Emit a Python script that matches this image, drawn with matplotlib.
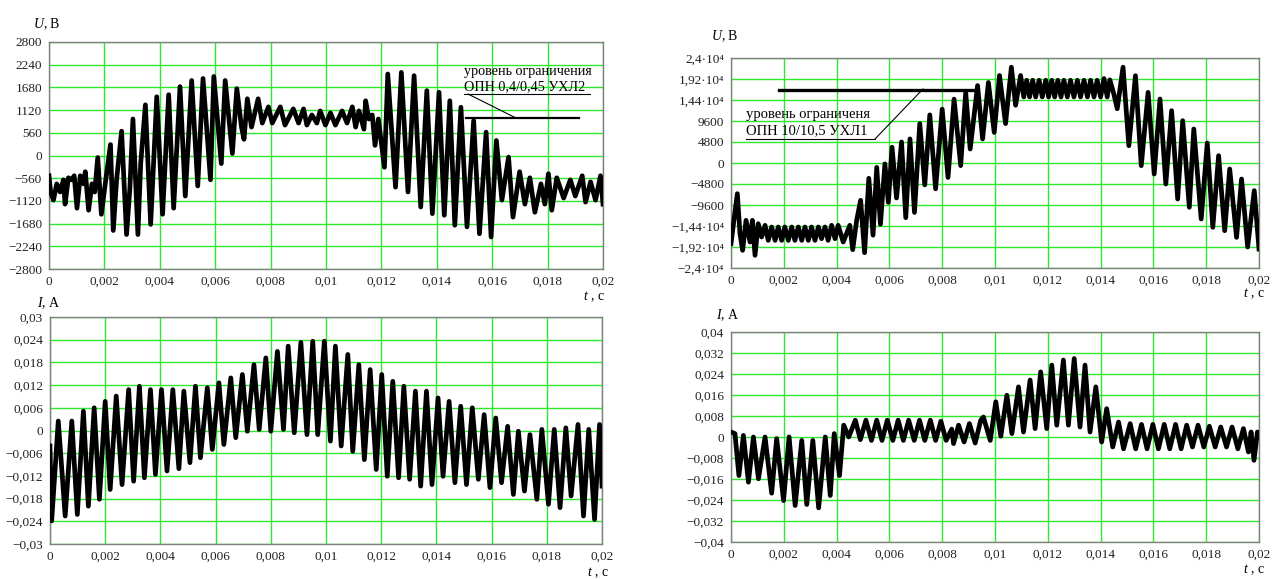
import numpy as np
import matplotlib
matplotlib.use("Agg")
import matplotlib.pyplot as plt
from matplotlib.lines import Line2D

plt.rcParams["font.family"] = ["Liberation Serif", "DejaVu Serif"]
plt.rcParams["mathtext.fontset"] = "custom"
plt.rcParams["mathtext.rm"] = "Liberation Serif"
plt.rcParams["mathtext.it"] = "Liberation Serif:italic"

W, H = 1273, 579

# time ticks (s)
x_labels = ["0", "0,002", "0,004", "0,006", "0,008", "0,01",
            "0,012", "0,014", "0,016", "0,018", "0,02"]

# --- 0,4 kV network: voltage (ms, V) ---
t_u1 = [0.00, 0.06, 0.16, 0.28, 0.40, 0.52, 0.58, 0.70, 0.82, 0.91, 1.01, 1.13,
        1.25, 1.31, 1.43, 1.55, 1.65, 1.76, 1.89, 2.04, 2.22, 2.32, 2.44, 2.62,
        2.80, 2.92, 3.03, 3.21, 3.31, 3.48, 3.67, 3.89, 4.10, 4.32, 4.50, 4.73,
        4.92, 5.15, 5.37, 5.56, 5.83, 5.95, 6.22, 6.36, 6.62, 6.78, 6.95, 7.04,
        7.16, 7.31, 7.55, 7.70, 7.92, 8.06, 8.35, 8.52, 8.82, 9.01, 9.19, 9.31,
        9.49, 9.67, 9.79, 9.98, 10.16, 10.34, 10.58, 10.76, 10.95, 11.07, 11.19,
        11.37, 11.43, 11.55, 11.67, 11.77, 11.89, 12.11, 12.23, 12.51, 12.72,
        12.96, 13.18, 13.42, 13.64, 13.84, 14.08, 14.27, 14.47, 14.65, 14.87,
        15.09, 15.33, 15.54, 15.78, 15.96, 16.15, 16.35, 16.59, 16.75, 16.99,
        17.18, 17.36, 17.54, 17.76, 17.90, 18.03, 18.15, 18.33, 18.58, 18.82,
        19.00, 19.25, 19.37, 19.55, 19.73, 19.91, 20.00]
u1 = [-500, -900, -1100, -700, -900, -600, -1200, -550, -600, -500, -1300, -500,
      -700, -400, -1350, -700, -900, -50, -1450, -650, 270, -1850, -600, 600,
      -1950, -800, 900, -1950, -200, 1250, -1700, 1450, -1450, 1500, -1300, 1700,
      -1000, 1850, -750, 1900, -600, 1950, -200, 1850, 50, 1650, 700, 400,
      1400, 700, 1400, 800, 1200, 800, 1200, 750, 1150, 800, 1150, 750,
      1000, 800, 1100, 750, 1050, 750, 1100, 800, 1200, 700, 1100,
      650, 1350, 900, 1000, 250, 900, -290, 2010, -780, 2050,
      -900, 1970, -1270, 1600, -1435, 1560, -1475, 1350, -1720, 1190,
      -1760, 860, -1930, 575, -2010, 370, -1100, -40, -1520, -400,
      -1200, -550, -1400, -700, -1200, -450, -1350, -550, -1050, -600,
      -1000, -500, -1150, -650, -1100, -500, -1200]

# --- 0,4 kV network: current (ms, A) ---
t_i1 = [0.00, 0.06, 0.30, 0.55, 0.79, 0.99, 1.21, 1.39, 1.60, 1.79, 2.00, 2.18,
        2.40, 2.61, 2.85, 3.03, 3.24, 3.42, 3.64, 3.82, 4.04, 4.24, 4.45, 4.67,
        4.85, 5.07, 5.27, 5.45, 5.70, 5.88, 6.12, 6.30, 6.55, 6.73, 6.97, 7.15,
        7.39, 7.58, 7.82, 8.00, 8.24, 8.46, 8.63, 8.85, 9.09, 9.31, 9.52, 9.70,
        9.94, 10.16, 10.34, 10.55, 10.79, 10.97, 11.19, 11.39, 11.60, 11.82,
        12.02, 12.22, 12.42, 12.63, 12.82, 13.03, 13.24, 13.43, 13.64, 13.84,
        14.06, 14.24, 14.46, 14.67, 14.88, 15.09, 15.30, 15.52, 15.73, 15.94,
        16.15, 16.36, 16.58, 16.79, 16.97, 17.19, 17.39, 17.64, 17.82, 18.06,
        18.27, 18.48, 18.69, 18.88, 19.13, 19.33, 19.52, 19.73, 19.91, 20.00]
i1 = [-0.0041, -0.0239, 0.0025, -0.0226, 0.0025, -0.0222, 0.0051, -0.0200,
      0.0060, -0.0182, 0.0077, -0.0156, 0.0091, -0.0143, 0.0108, -0.0134,
      0.0117, -0.0125, 0.0108, -0.0116, 0.0108, -0.0107, 0.0108, -0.0101,
      0.0104, -0.0085, 0.0117, -0.0072, 0.0113, -0.0050, 0.0126, -0.0037,
      0.0139, -0.0019, 0.0148, -0.0002, 0.0174, 0.0003, 0.0192, -0.0002,
      0.0209, 0.0003, 0.0223, -0.0006, 0.0233, -0.0011, 0.0236, -0.0011,
      0.0236, -0.0028, 0.0223, -0.0041, 0.0201, -0.0055, 0.0174, -0.0077,
      0.0161, -0.0103, 0.0148, -0.0121, 0.0130, -0.0125, 0.0117, -0.0129,
      0.0104, -0.0147, 0.0104, -0.0143, 0.0086, -0.0121, 0.0077, -0.0138,
      0.0064, -0.0143, 0.0060, -0.0129, 0.0042, -0.0151, 0.0033, -0.0138,
      0.0011, -0.0169, -0.0002, -0.0160, -0.0011, -0.0182, 0.0003, -0.0195,
      0.0003, -0.0204, 0.0007, -0.0173, 0.0016, -0.0226, 0.0003, -0.0235,
      0.0016, -0.0147]

# --- 10 kV network: voltage (ms, V) ---
t_u2 = [0.00, 0.11, 0.24, 0.34, 0.44, 0.57, 0.72, 0.81, 0.91, 1.03, 1.16, 1.29,
        1.41, 1.54, 1.67, 1.79, 1.92, 2.04, 2.17, 2.30, 2.42, 2.55, 2.68, 2.80,
        2.93, 3.05, 3.18, 3.31, 3.43, 3.56, 3.68, 3.81, 3.94, 4.06, 4.25, 4.50,
        4.61, 4.76, 4.91, 5.06, 5.22, 5.38, 5.52, 5.66, 5.83, 5.96, 6.10, 6.27,
        6.46, 6.62, 6.78, 6.95, 7.15, 7.34, 7.53, 7.75, 8.00, 8.22, 8.45, 8.70,
        8.89, 9.06, 9.34, 9.53, 9.75, 9.97, 10.17, 10.40, 10.62, 10.78, 10.97,
        11.09, 11.20, 11.31, 11.43, 11.54, 11.67, 11.79, 11.92, 12.03, 12.15,
        12.26, 12.38, 12.50, 12.61, 12.74, 12.86, 12.99, 13.12, 13.24, 13.37,
        13.50, 13.62, 13.75, 13.87, 14.00, 14.13, 14.25, 14.35, 14.50, 14.63,
        14.85, 15.07, 15.32, 15.54, 15.80, 16.03, 16.25, 16.47, 16.69, 16.92,
        17.11, 17.36, 17.53, 17.81, 18.04, 18.25, 18.47, 18.70, 18.89, 19.15,
        19.34, 19.57, 19.82, 20.00]
u2 = [-18440, -13100, -7010, -16150, -19960, -13100, -18060, -13100, -21100,
      -13870, -16910, -14250, -17680, -14630, -17680, -14630, -17680, -14630,
      -17680, -14630, -17680, -14630, -17680, -14630, -17680, -14630, -17680,
      -14630, -17300, -14630, -17680, -14250, -17300, -14250, -18060, -14250,
      -19810, -13100, -8530, -20500, -3500, -16500, -1000, -14000, -200, -9000,
      3600, -8000, 4800, -12500, 5500, -11300, 9000, -5000, 11000, -5900,
      12300, -3300, 14600, -600, 16100, 3200, 17700, 5500, 18400, 7000,
      20000, 9000, 21900, 13200, 20000,
      15100, 18900, 15100, 18900, 15100, 18900, 15100, 18900, 15100, 18900,
      15100, 18900, 15100, 18900, 15100, 18900, 15100, 18900, 15100, 18900,
      15100, 18900, 15100, 18900, 15100, 19300, 15100, 19000, 15800, 12400,
      21900, 3960, 19960, -610, 16150, -2510, 14630, -4800, 11960, -8230,
      9680, -10130, 7770, -12800, 4570, -14700, 1680, -15470, -1370, -17000,
      -3660, -19200, -6320, -19660]

# --- 10 kV network: current (ms, A) ---
t_i2 = [0.00, 0.15, 0.30, 0.47, 0.66, 0.85, 1.04, 1.29, 1.54, 1.73, 1.99, 2.20,
        2.43, 2.68, 2.87, 3.10, 3.32, 3.57, 3.76, 3.91, 4.11, 4.27, 4.46, 4.71,
        4.90, 5.11, 5.32, 5.52, 5.72, 5.92, 6.13, 6.33, 6.53, 6.73, 6.94, 7.14,
        7.34, 7.55, 7.75, 7.95, 8.15, 8.36, 8.43, 8.62, 8.83, 9.03, 9.25, 9.46,
        9.56, 9.82, 10.03, 10.22, 10.45, 10.64, 10.89, 11.08, 11.33, 11.52,
        11.73, 11.96, 12.15, 12.34, 12.59, 12.78, 13.00, 13.22, 13.41, 13.60,
        13.82, 14.04, 14.23, 14.46, 14.68, 14.87, 15.12, 15.33, 15.55, 15.76,
        15.98, 16.19, 16.41, 16.62, 16.84, 17.05, 17.26, 17.48, 17.69, 17.91,
        18.12, 18.34, 18.55, 18.77, 18.98, 19.20, 19.41, 19.60, 19.70, 19.81,
        19.94, 20.00]
i2 = [0.0019, 0.0013, -0.0147, 0.0006, -0.0172, 0.0000, -0.0159, 0.0000,
      -0.0214, -0.0006, -0.0242, 0.0000, -0.0261, -0.0013, -0.0257, -0.0013,
      -0.0270, 0.0000, -0.0223, 0.0013, -0.0147, 0.0045, 0.0000, 0.0064,
      -0.0010, 0.0064, -0.0013, 0.0064, -0.0013, 0.0064, -0.0013, 0.0064,
      -0.0013, 0.0064, -0.0013, 0.0064, -0.0013, 0.0064, -0.0013, 0.0060,
      -0.0013, 0.0030, -0.0025, 0.0045, -0.0019, 0.0051, -0.0023, 0.0064,
      0.0076, -0.0013, 0.0134, 0.0003, 0.0159, 0.0013, 0.0191, 0.0019,
      0.0217, 0.0032, 0.0248, 0.0032, 0.0274, 0.0045, 0.0293, 0.0045,
      0.0299, 0.0038, 0.0274, 0.0019, 0.0191, -0.0019, 0.0108, -0.0038,
      0.0057, -0.0045, 0.0051, -0.0045, 0.0048, -0.0045, 0.0048, -0.0045,
      0.0048, -0.0045, 0.0048, -0.0045, 0.0045, -0.0038, 0.0045, -0.0038,
      0.0041, -0.0038, 0.0038, -0.0038, 0.0038, -0.0045, 0.0032, -0.0057,
      0.0019, -0.0089, 0.0019, 0.0013]

# y tick labels
y1_labels = ["−2800", "−2240", "−1680", "−1120", "−560", "0",
             "560", "1120", "1680", "2240", "2800"]
y2_labels = ["−0,03", "−0,024", "−0,018", "−0,012", "−0,006", "0",
             "0,006", "0,012", "0,018", "0,024", "0,03"]
y3_labels = ["−2,4·10⁴", "−1,92·10⁴", "−1,44·10⁴", "−9600", "−4800", "0",
             "4800", "9600", "1,44·10⁴", "1,92·10⁴", "2,4·10⁴"]
y4_labels = ["−0,04", "−0,032", "−0,024", "−0,016", "−0,008", "0",
             "0,008", "0,016", "0,024", "0,032", "0,04"]

limit_u1 = 930      # V, limiting level OPN 0,4/0,45
limit_u2 = 16800    # V, limiting level OPN 10/10,5

GRID = "#2ee82e"


def box(x0, y0, x1, y1):
    return [x0 / W, 1 - y1 / H, (x1 - x0) / W, (y1 - y0) / H]


def setup(ax, ymax, ylabels):
    ax.set_xlim(0, 0.02)
    ax.set_ylim(-ymax, ymax)
    ax.set_xticks(np.linspace(0, 0.02, 11))
    ax.set_xticklabels(x_labels)
    ax.set_yticks(np.linspace(-ymax, ymax, 11))
    ax.set_yticklabels(ylabels)
    ax.grid(True, color=GRID, lw=1.0)
    ax.set_axisbelow(True)
    ax.tick_params(length=0, labelsize=9.5, pad=5, colors="#222222")
    for s in ax.spines.values():
        s.set_color("#7f7f7f")
        s.set_linewidth(1.0)


def trace(ax, t_ms, vals):
    ax.plot(np.array(t_ms) / 1000.0, vals, color="black", lw=3.4,
            solid_joinstyle="round", zorder=3)


def ftext(x, y, s, **kw):
    fig.text(x / W, 1 - y / H, s, **kw)


def fline(xs, ys, lw=0.8):
    fig.add_artist(Line2D([x / W for x in xs], [1 - y / H for y in ys],
                          color="black", lw=lw))


fig = plt.figure(figsize=(W / 100, H / 100), dpi=100)

ax1 = fig.add_axes(box(49, 42, 603, 269))
ax2 = fig.add_axes(box(50, 317, 602, 544))
ax3 = fig.add_axes(box(731, 58, 1259, 268))
ax4 = fig.add_axes(box(731, 332, 1259, 542))

setup(ax1, 2800, y1_labels)
setup(ax2, 0.03, y2_labels)
setup(ax3, 24000, y3_labels)
setup(ax4, 0.04, y4_labels)

trace(ax1, t_u1, u1)
trace(ax2, t_i1, i1)
trace(ax3, t_u2, u2)
trace(ax4, t_i2, i2)

# limiting levels
ax1.plot([0.01504, 0.01914], [limit_u1, limit_u1], color="black", lw=1.6, zorder=4)
ax3.plot([0.00182, 0.00931], [limit_u2, limit_u2], color="black", lw=2.4, zorder=4)

# axis names
fs = 10
ftext(33, 28, "$U$, В", fontsize=fs)
ftext(37, 307, "$I$, А", fontsize=fs)
ftext(711, 40, "$U$, В", fontsize=fs)
ftext(716, 319, "$I$, А", fontsize=fs)
ftext(583, 300, "$t$ , с", fontsize=fs)
ftext(587, 576, "$t$ , с", fontsize=fs)
ftext(1243, 297, "$t$ , с", fontsize=fs)
ftext(1243, 573, "$t$ , с", fontsize=fs)

# annotation, 0,4 kV
ftext(464, 75, "уровень ограничения", fontsize=10.2)
ftext(464, 90, "ОПН 0,4/0,45 УХЛ2", fontsize=10.2)
fline([464, 590], [94, 94])
fline([468, 516], [94, 118])

# annotation, 10 kV
ftext(746, 118, "уровень ограниченя", fontsize=10.5)
ftext(746, 134, "ОПН 10/10,5 УХЛ1", fontsize=10.5)
fline([746, 875], [139, 139])
fline([875, 923], [139, 89])

fig.savefig("out.png", dpi=100)
